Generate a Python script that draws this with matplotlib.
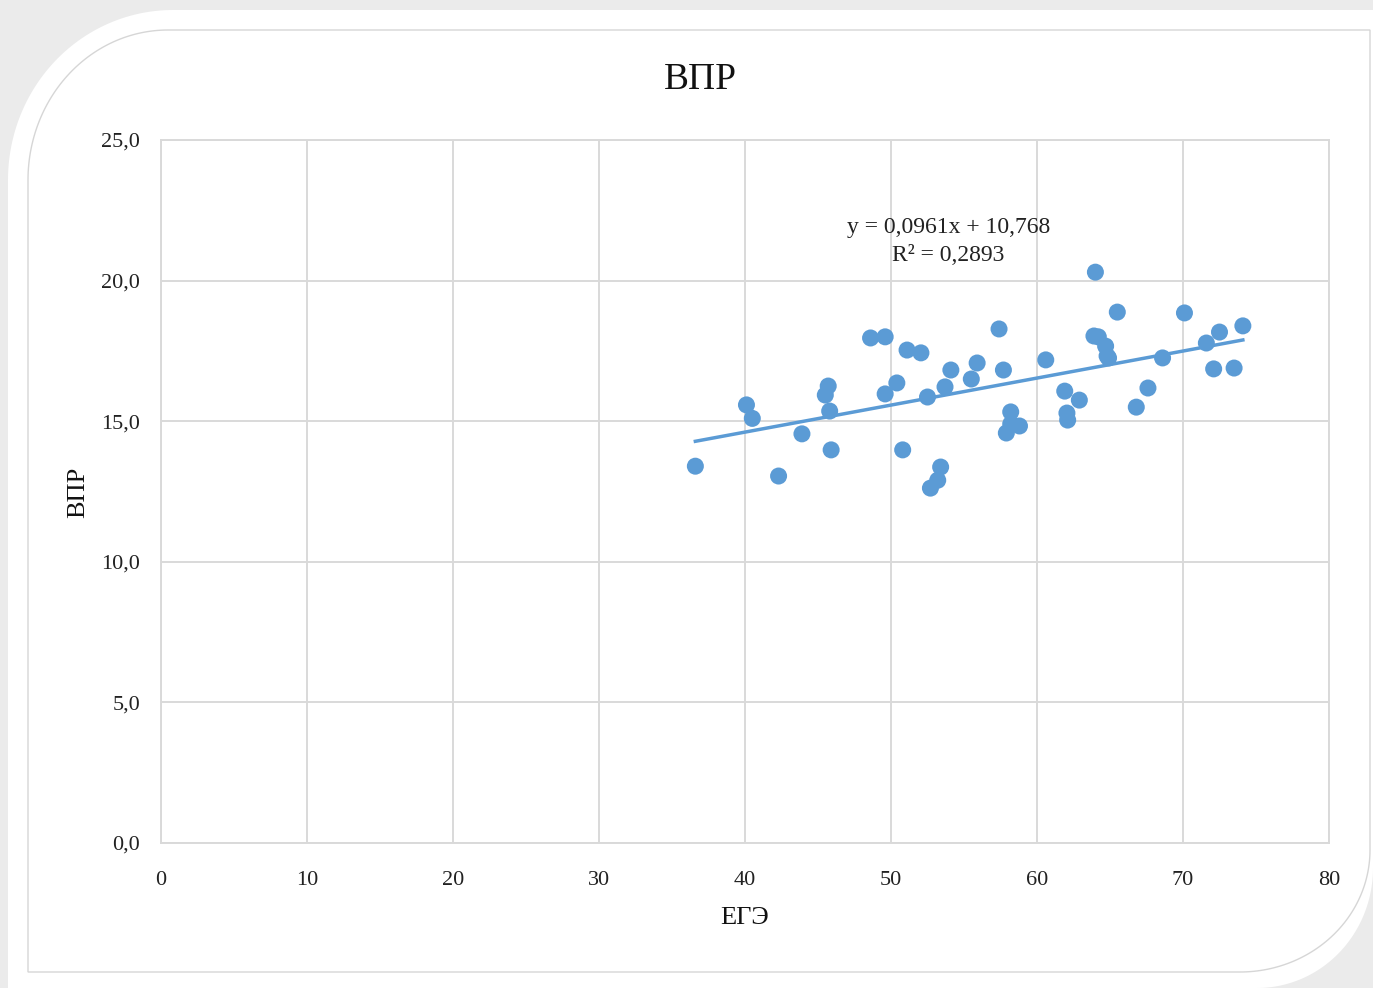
import numpy as np
import matplotlib.pyplot as plt
from matplotlib.patches import Polygon

# points (ЕГЭ, ВПР)
ege = [36.6, 40.1, 40.5, 42.3, 43.9, 45.5, 45.7, 45.8, 45.9, 48.6,
       49.6, 49.6, 50.4, 50.8, 51.1, 52.05, 52.5, 52.7, 53.2, 53.4,
       53.7, 54.1, 55.5, 55.9, 57.4, 57.7, 57.9, 58.2, 58.2, 58.8,
       60.6, 61.9, 62.05, 62.1, 62.9, 64.0, 63.9, 64.2, 64.7, 64.8,
       64.9, 65.5, 66.8, 67.6, 68.6, 70.1, 71.6, 72.1, 72.5, 73.5, 74.1]
vpr = [13.4, 15.58, 15.1, 13.05, 14.55, 15.93, 16.25, 15.36, 13.98, 17.96,
       18.0, 15.97, 16.36, 13.98, 17.53, 17.43, 15.86, 12.62, 12.9, 13.37,
       16.22, 16.82, 16.5, 17.07, 18.28, 16.82, 14.58, 14.9, 15.33, 14.83,
       17.18, 16.07, 15.29, 15.04, 15.75, 20.3, 18.03, 18.0, 17.67, 17.32,
       17.25, 18.88, 15.5, 16.18, 17.25, 18.85, 17.78, 16.86, 18.17, 16.89, 18.39]

# trendline as printed on the chart
slope, intercept, r2 = 0.0961, 10.768, 0.2893

x_ticks = [0, 10, 20, 30, 40, 50, 60, 70, 80]
y_ticks = [0, 5, 10, 15, 20, 25]

W, H = 1373, 988
plt.rcParams['font.family'] = ['Liberation Serif', 'DejaVu Serif']
blue = '#5B9BD5'
grid = '#d9d9d9'

fig = plt.figure(figsize=(W / 100, H / 100), dpi=100, facecolor='#ebebeb')


def panel(left, top, right, bottom, r_tl, r_br):
    # pixel coords (y down), rounded top-left and bottom-right corners
    t = np.linspace(0, np.pi / 2, 60)
    pts = [(left, bottom)]
    cx, cy = left + r_tl[0], top + r_tl[1]
    pts += [(cx - r_tl[0] * np.cos(a), cy - r_tl[1] * np.sin(a)) for a in t]
    pts += [(right, top)]
    cx, cy = right - r_br[0], bottom - r_br[1]
    pts += [(cx + r_br[0] * np.cos(a), cy + r_br[1] * np.sin(a)) for a in t]
    return np.array([(x / W, 1 - y / H) for x, y in pts])


fig.patches.append(Polygon(panel(8, 10, 1373, 988, (165, 170), (116, 120)),
                           closed=True, transform=fig.transFigure,
                           facecolor='white', edgecolor='none', zorder=-2))
fig.patches.append(Polygon(panel(28, 30, 1370, 972, (140, 150), (130, 122)),
                           closed=True, transform=fig.transFigure,
                           facecolor='none', edgecolor='#d6d6d6', lw=1, zorder=-1))

ax = fig.add_axes([161 / W, 1 - 843 / H, (1329 - 161) / W, (843 - 140) / H])
ax.set_facecolor('white')

ax.scatter(ege, vpr, s=150, color=blue, edgecolors='none', zorder=3)
xs = np.array([min(ege), max(ege)])
ax.plot(xs, slope * xs + intercept, color=blue, lw=2.5, zorder=2)

ax.set_xlim(0, 80)
ax.set_ylim(0, 25)
ax.set_xticks(x_ticks)
ax.set_xticklabels([str(v) for v in x_ticks])
ax.set_yticks(y_ticks)
ax.set_yticklabels([f'{v:.1f}'.replace('.', ',') for v in y_ticks])
ax.tick_params(length=0, labelsize=16, colors='#222222')
ax.tick_params(axis='y', pad=15)
ax.tick_params(axis='x', pad=20)
ax.grid(True, color=grid, lw=1.4, zorder=0)
ax.set_axisbelow(True)
for s in ax.spines.values():
    s.set_color(grid)
    s.set_linewidth(1.4)

eq = f'y = {slope}x + {intercept}\nR² = {r2}'.replace('.', ',')
ax.text(0.674, 0.856, eq, transform=ax.transAxes, ha='center', va='center',
        fontsize=17, linespacing=1.45, color='#222222')

fig.text(700 / W, 1 - 80 / H, 'ВПР', ha='center', va='center', fontsize=27, color='#111111')
fig.text(745 / W, 1 - 918 / H, 'ЕГЭ', ha='center', va='center', fontsize=19, color='#111111')
fig.text(78 / W, 1 - 492 / H, 'ВПР', ha='center', va='center', rotation=90,
         fontsize=19, color='#111111')

fig.savefig('out.png', dpi=100, facecolor=fig.get_facecolor())
